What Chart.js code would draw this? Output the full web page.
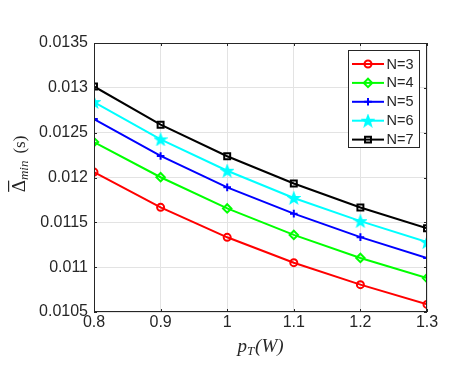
<!DOCTYPE html>
<html>
<head>
<meta charset="utf-8">
<script src="https://cdn.jsdelivr.net/npm/chart.js@4.4.1/dist/chart.umd.min.js"></script>
<style>
  html, body { margin: 0; padding: 0; background: #fff; }
  canvas { display: block; }
</style>
</head>
<body>
<canvas id="deltaChart" width="457" height="371"></canvas>
<script>
// values
const powers = [0.8, 0.9, 1.0, 1.1, 1.2, 1.3];
const deltaN3 = [0.01206, 0.011667, 0.011333, 0.01105, 0.010805, 0.010585];
const deltaN4 = [0.012395, 0.012003, 0.011655, 0.01136, 0.011103, 0.010878];
const deltaN5 = [0.012652, 0.01224, 0.01189, 0.011597, 0.011335, 0.011103];
const deltaN6 = [0.012841, 0.012425, 0.012075, 0.011772, 0.011513, 0.011279];
const deltaN7 = [0.013015, 0.012589, 0.012237, 0.011933, 0.011665, 0.011433];
const seriesLabels = ['N=3', 'N=4', 'N=5', 'N=6', 'N=7'];
const xTicks = [0.8, 0.9, 1.0, 1.1, 1.2, 1.3];
const yTicks = [0.0105, 0.011, 0.0115, 0.012, 0.0125, 0.013, 0.0135];

const AXIS_COLOR = '#262626';
const GRID_COLOR = '#e3e3e3';
const TICK_FONT = { family: "'Liberation Sans', Arial, sans-serif", size: 16 };

// pentagram marker like MATLAB 'p'
function makeStar(color) {
    const c = document.createElement('canvas');
    c.width = 14; c.height = 14;
    const g = c.getContext('2d');
    g.beginPath();
    for (let i = 0; i < 10; i++) {
        const r = i % 2 === 0 ? 5.8 : 2.4;
        const a = -Math.PI / 2 + i * Math.PI / 5;
        const px = 7 + r * Math.cos(a), py = 7.5 + r * Math.sin(a);
        if (i === 0) g.moveTo(px, py); else g.lineTo(px, py);
    }
    g.closePath();
    g.fillStyle = color;
    g.strokeStyle = color;
    g.lineWidth = 1.5;
    g.fill();
    g.stroke();
    return c;
}

function toPoints(values) {
    return values.map((v, i) => ({ x: powers[i], y: v }));
}

const seriesValues = [deltaN3, deltaN4, deltaN5, deltaN6, deltaN7];
const seriesColors = ['#ff0000', '#00ff00', '#0000ff', '#00ffff', '#000000'];
const seriesMarkers = ['circle', 'rectRot', 'cross', makeStar('#00ffff'), 'rect'];
const seriesRadius = [3.5, 4.2, 3.8, 7, 4.2];

const datasets = seriesLabels.map((label, i) => ({
    label: label,
    data: toPoints(seriesValues[i]),
    borderColor: seriesColors[i],
    backgroundColor: 'transparent',
    borderWidth: 2,
    pointStyle: seriesMarkers[i],
    pointRadius: seriesRadius[i],
    pointBorderColor: seriesColors[i],
    pointBackgroundColor: 'transparent',
    pointBorderWidth: 2,
    tension: 0
}));

// box, inward ticks, legend and axis titles, drawn MATLAB style
const matlabDecor = {
    id: 'matlabDecor',
    afterDraw(chart) {
        const ctx = chart.ctx;
        const a = chart.chartArea;
        const xs = chart.scales.x, ys = chart.scales.y;
        ctx.save();

        ctx.strokeStyle = AXIS_COLOR;
        ctx.lineWidth = 1;
        ctx.strokeRect(a.left + 0.5, a.top + 0.5, a.right - a.left - 1, a.bottom - a.top - 1);
        ctx.beginPath();
        xTicks.forEach(t => {
            const px = Math.round(xs.getPixelForValue(t)) + 0.5;
            ctx.moveTo(px, a.bottom); ctx.lineTo(px, a.bottom - 3);
            ctx.moveTo(px, a.top); ctx.lineTo(px, a.top + 3);
        });
        yTicks.forEach(t => {
            const py = Math.round(ys.getPixelForValue(t)) + 0.5;
            ctx.moveTo(a.left, py); ctx.lineTo(a.left + 3, py);
            ctx.moveTo(a.right, py); ctx.lineTo(a.right - 3, py);
        });
        ctx.stroke();

        // legend
        const lx = 348, ly = 50, lw = 71, lh = 97;
        ctx.fillStyle = '#fff';
        ctx.fillRect(lx, ly, lw, lh);
        ctx.strokeStyle = AXIS_COLOR;
        ctx.strokeRect(lx + 0.5, ly + 0.5, lw, lh);
        ctx.font = "14.5px 'Liberation Sans', Arial, sans-serif";
        ctx.textBaseline = 'middle';
        ctx.textAlign = 'left';
        chart.data.datasets.forEach((ds, i) => {
            const yy = 64 + i * 18.9;
            ctx.strokeStyle = ds.borderColor;
            ctx.lineWidth = 2;
            ctx.beginPath();
            ctx.moveTo(352, yy); ctx.lineTo(384, yy);
            ctx.stroke();
            ctx.fillStyle = 'transparent';
            Chart.helpers.drawPoint(ctx, {
                pointStyle: ds.pointStyle, radius: ds.pointRadius,
                borderWidth: 2, rotation: 0
            }, 368, yy);
            ctx.fillStyle = AXIS_COLOR;
            ctx.fillText(ds.label, 386.5, yy + 0.5);
        });

        // x title: p_T(W)
        ctx.fillStyle = AXIS_COLOR;
        ctx.textBaseline = 'alphabetic';
        ctx.textAlign = 'left';
        const cx = (a.left + a.right) / 2;
        ctx.font = "italic 19px 'Liberation Serif', 'DejaVu Serif', serif";
        const wP = ctx.measureText('p').width;
        const wW = ctx.measureText('(W)').width;
        ctx.font = "italic 13px 'Liberation Serif', 'DejaVu Serif', serif";
        const wT = ctx.measureText('T').width;
        let sx = cx - (wP + wT + 1 + wW) / 2;
        const by = 352;
        ctx.font = "italic 19px 'Liberation Serif', 'DejaVu Serif', serif";
        ctx.fillText('p', sx, by);
        ctx.font = "italic 13px 'Liberation Serif', 'DejaVu Serif', serif";
        ctx.fillText('T', sx + wP, by + 3);
        ctx.font = "italic 19px 'Liberation Serif', 'DejaVu Serif', serif";
        ctx.fillText('(W)', sx + wP + wT + 1, by);

        // y title: overline Delta_min (s)
        ctx.translate(25, 164);
        ctx.rotate(-Math.PI / 2);
        ctx.font = "19px 'Liberation Serif', 'DejaVu Serif', serif";
        const wD = ctx.measureText('\u0394').width;
        ctx.font = "italic 13px 'Liberation Serif', 'DejaVu Serif', serif";
        const wMin = ctx.measureText('min').width;
        ctx.font = "17px 'Liberation Serif', 'DejaVu Serif', serif";
        const wS = ctx.measureText('(s)').width;
        const gap = 7;
        let tx = -(wD + wMin + gap + wS) / 2;
        ctx.font = "19px 'Liberation Serif', 'DejaVu Serif', serif";
        ctx.fillText('\u0394', tx, 0);
        ctx.fillRect(tx + 0.5, -17, wD - 1, 1.2);
        ctx.font = "italic 13px 'Liberation Serif', 'DejaVu Serif', serif";
        ctx.fillText('min', tx + wD, 3);
        ctx.font = "17px 'Liberation Serif', 'DejaVu Serif', serif";
        ctx.fillText('(s)', tx + wD + wMin + gap, 0);

        ctx.restore();
    }
};

new Chart(document.getElementById('deltaChart'), {
    type: 'line',
    data: { datasets: datasets },
    options: {
        responsive: false,
        devicePixelRatio: 1,
        animation: false,
        layout: { padding: { left: 0, top: 43, right: 30, bottom: 0 } },
        plugins: { legend: { display: false }, tooltip: { enabled: false } },
        scales: {
            x: {
                type: 'linear',
                min: 0.8,
                max: 1.3,
                afterFit: s => { s.height = 59; },
                afterBuildTicks: s => { s.ticks = xTicks.map(v => ({ value: v })); },
                ticks: {
                    color: AXIS_COLOR,
                    font: TICK_FONT,
                    padding: 1,
                    maxRotation: 0,
                    callback: v => String(+v.toFixed(1))
                },
                grid: { color: GRID_COLOR, drawTicks: false, tickLength: 0 },
                border: { display: false }
            },
            y: {
                type: 'linear',
                min: 0.0105,
                max: 0.0135,
                afterFit: s => { s.width = 94; },
                afterBuildTicks: s => { s.ticks = yTicks.map(v => ({ value: v })); },
                ticks: {
                    color: AXIS_COLOR,
                    font: TICK_FONT,
                    padding: 6,
                    callback: v => String(+v.toFixed(4))
                },
                grid: { color: GRID_COLOR, drawTicks: false, tickLength: 0 },
                border: { display: false }
            }
        }
    },
    plugins: [matlabDecor]
});
</script>
</body>
</html>
